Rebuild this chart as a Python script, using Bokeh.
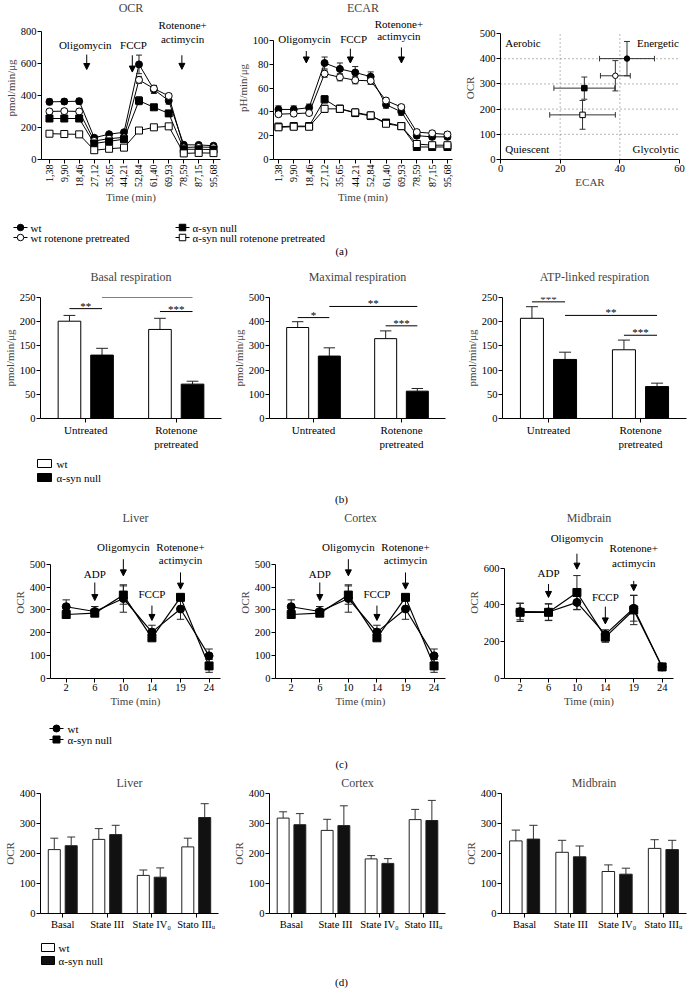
import numpy as np
from bokeh.plotting import figure
from bokeh.models import (Range1d, FixedTicker, Label, Arrow, NormalHead,
                          ColumnDataSource, FactorRange)
from bokeh.layouts import column, row
from bokeh.transform import dodge
from bokeh.core.properties import value
from bokeh.embed import file_html
from bokeh.resources import INLINE

FONT = "Liberation Serif"
TICK_FS = "10.5px"
LAB_FS = "11px"
TITLE_FS = "12px"
ANN_FS = "11px"

# ======================= DATA =======================
# (a) Seahorse traces
time_min = [1.38, 9.90, 18.46, 27.12, 35.65, 44.21, 52.84, 61.40, 69.93, 78.59, 87.15, 95.68]
time_labels = ["1,38", "9,90", "18,46", "27,12", "35,65", "44,21",
               "52,84", "61,40", "69,93", "78,59", "87,15", "95,68"]
series_names = ["wt", "wt rotenone pretreated", "α-syn null", "α-syn null rotenone pretreated"]

ocr_wt = [360, 362, 364, 136, 158, 170, 594, 437, 367, 92, 91, 86]
ocr_wt_err = [18, 16, 18, 14, 10, 12, 58, 25, 22, 10, 10, 10]
ocr_wt_rot = [300, 302, 300, 116, 130, 138, 497, 443, 397, 75, 78, 76]
ocr_wt_rot_err = [14, 14, 14, 10, 10, 10, 22, 20, 14, 8, 8, 8]
ocr_null = [256, 256, 256, 100, 113, 127, 367, 326, 288, 64, 64, 62]
ocr_null_err = [16, 16, 16, 10, 10, 10, 25, 15, 16, 8, 8, 8]
ocr_null_rot = [161, 159, 157, 58, 67, 74, 181, 201, 207, 38, 41, 40]
ocr_null_rot_err = [10, 10, 10, 8, 8, 8, 10, 10, 10, 6, 6, 6]

ecar_wt = [42, 42, 43.5, 81, 76, 73, 69.5, 46, 40, 20, 19, 19]
ecar_wt_err = [3, 3, 3, 5, 5, 5, 4, 3, 3, 2, 2, 2]
ecar_wt_rot = [38, 38.5, 39, 72, 69, 66.5, 66, 49.5, 44, 23, 22, 21]
ecar_wt_rot_err = [2, 2, 2, 3, 3, 3, 3, 2, 2, 2, 2, 2]
ecar_null = [27.5, 28, 28, 50.5, 42.5, 39, 36.5, 31, 28, 10.5, 10.5, 10.5]
ecar_null_err = [3, 3, 3, 3, 3, 3, 3, 2, 2, 2, 2, 2]
ecar_null_rot = [27, 27.5, 27.5, 42.5, 42.5, 39.5, 37, 30, 28, 13, 12, 12]
ecar_null_rot_err = [2, 2, 2, 3, 3, 3, 3, 2, 2, 2, 2, 2]

# injections: (label, arrow x, arrow start y, arrow end y, label x, label y)
ocr_injections = [("Oligomycin", 22.8, 655, 562, 21.9, 717),
                  ("FCCP", 49.0, 651, 546, 49.7, 717),
                  ("Rotenone+\nactimycin", 77.5, 651, 563, 77.9, 837)]
ecar_injections = [("Oligomycin", 16.9, 91, 81, 15.9, 101),
                   ("FCCP", 41.5, 93, 81, 43.3, 101),
                   ("Rotenone+\nactimycin", 70.0, 94, 81, 68.6, 113.5)]

# energy phenogram
phen_ecar = [42.4, 38.5, 28.1, 27.5]
phen_ecar_err = [9.2, 5.0, 10.2, 11.0]
phen_ocr = [400, 332, 283, 177]
phen_ocr_err = [68, 60, 44, 57]
quadrants = ["Aerobic", "Energetic", "Quiescent", "Glycolytic"]
phen_x_ticks = [0, 20, 40, 60]
phen_y_ticks = [0, 100, 200, 300, 400, 500]

# (b) respiration parameters
resp_groups = ["Untreated", "Rotenone\npretreated"]
bar_series = ["wt", "α-syn null"]
basal_wt = [201, 184]
basal_wt_err = [12, 23]
basal_null = [131, 71]
basal_null_err = [14, 6]
max_wt = [376, 330]
max_wt_err = [24, 32]
max_null = [258, 113]
max_null_err = [34, 11]
atp_wt = [207, 142]
atp_wt_err = [24, 20]
atp_null = [122, 66]
atp_null_err = [15, 7]
# significance: (group_from, series_from, group_to, series_to, height, stars)
basal_sig = [(0, 0, 0, 1, 227, "**"), (0, 1, 1, 1, 250, "*"), (1, 0, 1, 1, 221, "***")]
max_sig = [(0, 0, 0, 1, 417, "*"), (0, 1, 1, 1, 463, "**"), (1, 0, 1, 1, 383, "***")]
atp_sig = [(0, 0, 0, 1, 241, "***"), (0, 1, 1, 1, 213, "**"), (1, 0, 1, 1, 172, "***")]

# (c) isolated mitochondria traces
c_time_labels = ["2", "6", "10", "14", "19", "24"]
liver_wt = [314, 293, 350, 203, 304, 99]
liver_wt_err = [30, 22, 60, 30, 45, 30]
liver_null = [280, 286, 365, 178, 355, 55]
liver_null_err = [8, 10, 40, 12, 12, 28]
cortex_wt = [314, 293, 350, 203, 304, 99]
cortex_wt_err = [30, 22, 60, 30, 45, 30]
cortex_null = [280, 286, 365, 178, 355, 55]
cortex_null_err = [8, 10, 40, 12, 12, 28]
mid_wt = [364, 362, 414, 240, 382, 63]
mid_wt_err = [45, 45, 40, 25, 70, 8]
mid_null = [360, 360, 468, 225, 373, 63]
mid_null_err = [50, 45, 92, 28, 80, 8]
# (label, time index, arrow start, arrow end, label x, label y)
liver_inj = [("ADP", 1, 420, 341, 1, 457), ("Oligomycin", 2, 522, 449, 2, 575),
             ("FCCP", 3, 319, 254, 3, 370), ("Rotenone+\nactimycin", 4, 464, 391, 4, 575)]
mid_inj = [("ADP", 1, 514, 441, 1, 573), ("Oligomycin", 2, 679, 595, 2, 762),
           ("FCCP", 3, 391, 297, 3, 441), ("Rotenone+\nactimycin", 4, 531, 477, 4, 708)]

# (d) respiratory states
d_states = ["Basal", "State III", "State IV\u2080", "Stato III\u1d64"]
d_liver_wt = [213, 247, 127, 222]
d_liver_wt_err = [38, 36, 18, 29]
d_liver_null = [226, 263, 121, 320]
d_liver_null_err = [29, 31, 31, 46]
d_cortex_wt = [318, 277, 182, 313]
d_cortex_wt_err = [21, 37, 11, 34]
d_cortex_null = [296, 293, 167, 310]
d_cortex_null_err = [37, 66, 16, 67]
d_mid_wt = [242, 204, 140, 217]
d_mid_wt_err = [36, 40, 22, 29]
d_mid_null = [248, 189, 131, 213]
d_mid_null_err = [46, 36, 20, 31]

# ======================= HELPERS =======================
def base_fig(w, h, xr, yr, bl, br, bt, bb, title=None, title_standoff=0, valign="top"):
    p = figure(width=w, height=h, x_range=xr, y_range=yr, output_backend="svg",
               toolbar_location=None, min_border_left=bl, min_border_right=br,
               min_border_top=bt, min_border_bottom=bb)
    p.outline_line_color = None
    p.grid.grid_line_color = None
    p.background_fill_color = "white"
    p.border_fill_color = "white"
    if title:
        p.title.text = title
        p.title.align = "center"
        p.title.text_font = FONT
        p.title.text_font_size = TITLE_FS
        p.title.text_font_style = "normal"
        p.title.standoff = title_standoff
        p.title.vertical_align = valign
    for ax in p.axis:
        ax.axis_line_color = "black"
        ax.axis_line_width = 1
        ax.major_tick_line_color = "black"
        ax.major_tick_out = 4
        ax.major_tick_in = 0
        ax.minor_tick_line_color = None
        ax.major_label_text_font = FONT
        ax.major_label_text_font_size = TICK_FS
        ax.major_label_text_color = "black"
        ax.major_label_standoff = 1
        ax.axis_label_text_font = FONT
        ax.axis_label_text_font_size = LAB_FS
        ax.axis_label_text_font_style = "normal"
        ax.axis_label_standoff = 1
    return p


def add_label(p, x, y, text, align="center", baseline="middle", fs=ANN_FS):
    p.add_layout(Label(x=x, y=y, text=text, text_align=align, text_baseline=baseline,
                       text_font=FONT, text_font_size=fs, text_color="black"))


def add_arrow(p, x, y0, y1):
    p.add_layout(Arrow(x_start=x, y_start=y0, x_end=x, y_end=y1, line_width=1,
                       line_color="black",
                       end=NormalHead(size=6, fill_color="black", line_color="black",
                                      line_width=1)))


def add_injections(p, injections, line_gap):
    for name, x, ya, yb, xl, ylab in injections:
        add_arrow(p, x, ya, yb)
        for k, ln in enumerate(name.split("\n")):
            add_label(p, xl, ylab - k * line_gap, ln)


MARKERS = [("circle", "black"), ("circle", "white"), ("square", "black"), ("square", "white")]


def errorbars(p, x, y, e, cap, color="#222", both=True):
    x = np.asarray(x, float); y = np.asarray(y, float); e = np.asarray(e, float)
    lo = y - e if both else y
    hi = y + e
    p.segment(x0=x, y0=lo, x1=x, y1=hi, line_color=color, line_width=1)
    p.segment(x0=x - cap, y0=hi, x1=x + cap, y1=hi, line_color=color, line_width=1)
    if both:
        p.segment(x0=x - cap, y0=lo, x1=x + cap, y1=lo, line_color=color, line_width=1)


# ======================= (a) =======================
ROW_A_H = 213
A_TOP, A_BOTTOM = 15, 54


def seahorse(w, title, ylabel, ys, es, y_top, y_end, y_step, xr, bl, br, injections,
             line_gap, cap):
    p = base_fig(w, ROW_A_H, Range1d(*xr), Range1d(0, y_end), bl, br, A_TOP, A_BOTTOM,
                 title=title)
    for vals in ys:
        p.line(time_min, vals, line_color="black", line_width=1)
    for vals, err in zip(ys, es):
        errorbars(p, time_min, vals, err, cap)
    for vals, (mk, fill) in zip(ys, MARKERS):
        p.scatter(time_min, vals, marker=mk, size=7, fill_color=fill,
                  line_color="black", line_width=1)
    p.xaxis.ticker = FixedTicker(ticks=time_min)
    p.xaxis.major_label_overrides = {t: lab for t, lab in zip(time_min, time_labels)}
    p.xaxis.major_label_orientation = np.pi / 2
    p.xaxis.major_label_text_font_size = "10px"
    p.xaxis.axis_label = "Time (min)"
    p.yaxis.axis_label = ylabel
    p.yaxis.ticker = FixedTicker(ticks=list(range(0, y_top + 1, y_step)))
    p.yaxis.bounds = (0, y_top)
    add_injections(p, injections, line_gap)
    return p


ocr_fig = seahorse(229, "OCR", "pmol/min/\u03bcg",
                   [ocr_wt, ocr_wt_rot, ocr_null, ocr_null_rot],
                   [ocr_wt_err, ocr_wt_rot_err, ocr_null_err, ocr_null_rot_err],
                   800, 893, 200, (-3.2, 99.7), 41, 9, ocr_injections, 87, 1.7)
ecar_fig = seahorse(229, "ECAR", "pH/min/\u03bcg",
                    [ecar_wt, ecar_wt_rot, ecar_null, ecar_null_rot],
                    [ecar_wt_err, ecar_wt_rot_err, ecar_null_err, ecar_null_rot_err],
                    100, 120, 20, (-1.4, 98.5), 44, 6, ecar_injections, 9.7, 1.7)

phen = base_fig(229, ROW_A_H, Range1d(0, 60), Range1d(0, 567), 42, 8, A_TOP, A_BOTTOM)
phen.xaxis.ticker = FixedTicker(ticks=phen_x_ticks)
phen.yaxis.ticker = FixedTicker(ticks=phen_y_ticks)
phen.yaxis.bounds = (0, phen_y_ticks[-1])
phen.xaxis.axis_label = "ECAR"
phen.yaxis.axis_label = "OCR"
# dotted quadrant guide lines at the inner ticks
inner_x = phen_x_ticks[1:-1]
inner_y = phen_y_ticks[1:-1]
phen.segment(x0=inner_x, y0=[0] * len(inner_x), x1=inner_x, y1=[phen_y_ticks[-1]] * len(inner_x),
             line_color="#8a8a8a", line_dash="1 3", line_width=1.2)
phen.segment(x0=[0] * len(inner_y), y0=inner_y, x1=[phen_x_ticks[-1]] * len(inner_y), y1=inner_y,
             line_color="#8a8a8a", line_dash="1 3", line_width=1.2)
errorbars(phen, phen_ecar, phen_ocr, phen_ocr_err, 1.0, color="#333")
ex = np.asarray(phen_ecar); ey = np.asarray(phen_ocr); ee = np.asarray(phen_ecar_err)
phen.segment(x0=ex - ee, y0=ey, x1=ex + ee, y1=ey, line_color="#333", line_width=1)
phen.segment(x0=ex - ee, y0=ey - 11, x1=ex - ee, y1=ey + 11, line_color="#333", line_width=1)
phen.segment(x0=ex + ee, y0=ey - 11, x1=ex + ee, y1=ey + 11, line_color="#333", line_width=1)
for i, (mk, fill) in enumerate(MARKERS):
    phen.scatter([phen_ecar[i]], [phen_ocr[i]], marker=mk, size=5.5, fill_color=fill,
                 line_color="black", line_width=1)
add_label(phen, 1.6, 463, quadrants[0], align="left")
add_label(phen, 59.8, 463, quadrants[1], align="right")
add_label(phen, 1.6, 41, quadrants[2], align="left")
add_label(phen, 59.8, 41, quadrants[3], align="right")

# ======================= strips =======================
FULL_W = 687


def strip(h):
    p = figure(width=FULL_W, height=h, x_range=Range1d(0, FULL_W), y_range=Range1d(h, 0),
               output_backend="svg", toolbar_location=None, x_axis_location=None,
               y_axis_location=None, min_border=0)
    p.grid.visible = False
    p.outline_line_color = None
    return p


def strip_text(p, x, y, text, align="left"):
    p.text(x=[x], y=[y], text=[text], text_font=value(FONT), text_font_size=ANN_FS,
           text_align=align, text_baseline="middle", text_color="black")


def line_key(p, cx, cy, mk, fill, half=7, size=6.5):
    p.segment(x0=[cx - half], y0=[cy], x1=[cx + half], y1=[cy], line_color="black", line_width=1)
    p.scatter([cx], [cy], marker=mk, size=size, fill_color=fill, line_color="black")


def box_key(p, x0, cy, fill, w=14, h=8):
    p.rect(x=[x0 + w / 2], y=[cy], width=w, height=h, fill_color=fill, line_color="black")


strip_a = strip(45)
for i, name in enumerate(series_names):
    col, rr = i // 2, i % 2
    cx = [20, 182][col]
    cy = [14, 24][rr]
    mk, fill = MARKERS[i]
    line_key(strip_a, cx, cy, mk, fill)
    strip_text(strip_a, cx + 10, cy, name)
strip_text(strip_a, 341, 37, "(a)", align="center")

# ======================= (b) =======================
ROW_B_H = 194


def resp_panel(w, title, wt, wt_e, nl, nl_e, y_end, y_step, sig, bl, br):
    p = base_fig(w, ROW_B_H, FactorRange(factors=resp_groups, range_padding=0),
                 Range1d(0, y_end), bl, br, 39, 34, title=title, title_standoff=23)
    src = ColumnDataSource(dict(g=resp_groups, wt=wt, nl=nl,
                                wt_hi=[a + b for a, b in zip(wt, wt_e)],
                                nl_hi=[a + b for a, b in zip(nl, nl_e)]))
    for off, top, hi, fill in ((-0.18, "wt", "wt_hi", "white"), (0.18, "nl", "nl_hi", "black")):
        p.segment(x0=dodge("g", off, range=p.x_range), y0=top,
                  x1=dodge("g", off, range=p.x_range), y1=hi,
                  source=src, line_color="#222", line_width=1)
        p.segment(x0=dodge("g", off - 0.065, range=p.x_range), y0=hi,
                  x1=dodge("g", off + 0.065, range=p.x_range), y1=hi,
                  source=src, line_color="#222", line_width=1)
        p.vbar(x=dodge("g", off, range=p.x_range), top=top, width=0.25, source=src,
               fill_color=fill, line_color="black", line_width=1)
    offs = [-0.18, 0.18]
    for g0, s0, g1, s1, yv, stars in sig:
        xa = g0 + 0.5 + offs[s0]
        xb = g1 + 0.5 + offs[s1]
        p.segment(x0=[xa], y0=[yv], x1=[xb], y1=[yv], line_color="black", line_width=1)
        p.text(x=[(xa + xb) / 2], y=[yv], text=[stars], text_font=value(FONT),
               text_font_size="11px", text_align="center", text_baseline="bottom",
               y_offset=3)
    p.yaxis.ticker = FixedTicker(ticks=list(range(0, y_end + 1, y_step)))
    p.yaxis.axis_label = "pmol/min/\u03bcg"
    p.xaxis.major_label_text_font_size = "11px"
    return p


basal_fig = resp_panel(229, "Basal respiration", basal_wt, basal_wt_err, basal_null,
                       basal_null_err, 250, 50, basal_sig, 37, 8)
max_fig = resp_panel(229, "Maximal respiration", max_wt, max_wt_err, max_null,
                     max_null_err, 500, 100, max_sig, 32, 13)
atp_fig = resp_panel(229, "ATP-linked respiration", atp_wt, atp_wt_err, atp_null,
                     atp_null_err, 250, 50, atp_sig, 44, 1)

strip_b = strip(58)
box_key(strip_b, 37, 11, "white")
strip_text(strip_b, 56, 11, bar_series[0])
box_key(strip_b, 37, 25, "black")
strip_text(strip_b, 56, 25, bar_series[1])
strip_text(strip_b, 341, 46, "(b)", align="center")

# ======================= (c) =======================
ROW_C_H = 212


def mito_panel(w, title, wt, wt_e, nl, nl_e, y_top, y_end, y_step, inj, line_gap, bl, br):
    p = base_fig(w, ROW_C_H, Range1d(-0.55, 5.4), Range1d(0, y_end), bl, br, 15, 44,
                 title=title)
    xs = list(range(len(c_time_labels)))
    p.line(xs, wt, line_color="black", line_width=1.2)
    p.line(xs, nl, line_color="black", line_width=1.2)
    errorbars(p, xs, wt, wt_e, 0.13)
    errorbars(p, xs, nl, nl_e, 0.13)
    p.scatter(xs, wt, marker="circle", size=8, fill_color="black", line_color="black")
    p.scatter(xs, nl, marker="square", size=8, fill_color="black", line_color="black")
    p.xaxis.ticker = FixedTicker(ticks=xs)
    p.xaxis.major_label_overrides = {i: lab for i, lab in zip(xs, c_time_labels)}
    p.xaxis.axis_label = "Time (min)"
    p.yaxis.axis_label = "OCR"
    p.yaxis.ticker = FixedTicker(ticks=list(range(0, y_top + 1, y_step)))
    p.yaxis.bounds = (0, y_top)
    add_injections(p, inj, line_gap)
    return p


liver_fig = mito_panel(229, "Liver", liver_wt, liver_wt_err, liver_null, liver_null_err,
                       500, 665, 100, liver_inj, 57, 50, 9)
cortex_fig = mito_panel(229, "Cortex", cortex_wt, cortex_wt_err, cortex_null, cortex_null_err,
                        500, 665, 100, liver_inj, 57, 46, 13)
mid_fig = mito_panel(229, "Midbrain", mid_wt, mid_wt_err, mid_null, mid_null_err,
                     600, 827, 200, mid_inj, 77, 46, 14)

strip_c = strip(50)
line_key(strip_c, 56, 6, "circle", "black", size=7)
strip_text(strip_c, 67, 6, bar_series[0])
line_key(strip_c, 56, 17, "square", "black", size=7)
strip_text(strip_c, 67, 17, bar_series[1])
strip_text(strip_c, 341, 41, "(c)", align="center")

# ======================= (d) =======================
ROW_D_H = 166


def state_panel(w, title, wt, wt_e, nl, nl_e, bl, br):
    p = base_fig(w, ROW_D_H, FactorRange(factors=d_states, range_padding=0),
                 Range1d(0, 400), bl, br, 21, 25, title=title, title_standoff=4)
    src = ColumnDataSource(dict(s=d_states, wt=wt, nl=nl,
                                wt_hi=[a + b for a, b in zip(wt, wt_e)],
                                nl_hi=[a + b for a, b in zip(nl, nl_e)]))
    for off, top, hi, fill in ((-0.19, "wt", "wt_hi", "white"), (0.19, "nl", "nl_hi", "#111")):
        p.segment(x0=dodge("s", off, range=p.x_range), y0=top,
                  x1=dodge("s", off, range=p.x_range), y1=hi,
                  source=src, line_color="#333", line_width=1)
        p.segment(x0=dodge("s", off - 0.09, range=p.x_range), y0=hi,
                  x1=dodge("s", off + 0.09, range=p.x_range), y1=hi,
                  source=src, line_color="#333", line_width=1)
        p.vbar(x=dodge("s", off, range=p.x_range), top=top, width=0.27, source=src,
               fill_color=fill, line_color="#222", line_width=1)
    p.yaxis.ticker = FixedTicker(ticks=[0, 100, 200, 300, 400])
    p.yaxis.axis_label = "OCR"
    return p


d_liver_fig = state_panel(229, "Liver", d_liver_wt, d_liver_wt_err, d_liver_null,
                          d_liver_null_err, 38, 11)
d_cortex_fig = state_panel(229, "Cortex", d_cortex_wt, d_cortex_wt_err, d_cortex_null,
                           d_cortex_null_err, 36, 13)
d_mid_fig = state_panel(229, "Midbrain", d_mid_wt, d_mid_wt_err, d_mid_null,
                        d_mid_null_err, 43, 1)

strip_d = strip(58)
box_key(strip_d, 41, 9, "white", w=13)
strip_text(strip_d, 58, 9, bar_series[0])
box_key(strip_d, 41, 22, "#111", w=13)
strip_text(strip_d, 58, 22, bar_series[1])
strip_text(strip_d, 341, 43, "(d)", align="center")

layout = column(
    row(ocr_fig, ecar_fig, phen), strip_a,
    row(basal_fig, max_fig, atp_fig), strip_b,
    row(liver_fig, cortex_fig, mid_fig), strip_c,
    row(d_liver_fig, d_cortex_fig, d_mid_fig), strip_d,
)

with open("out.html", "w") as f:
    f.write(file_html(layout, INLINE))
